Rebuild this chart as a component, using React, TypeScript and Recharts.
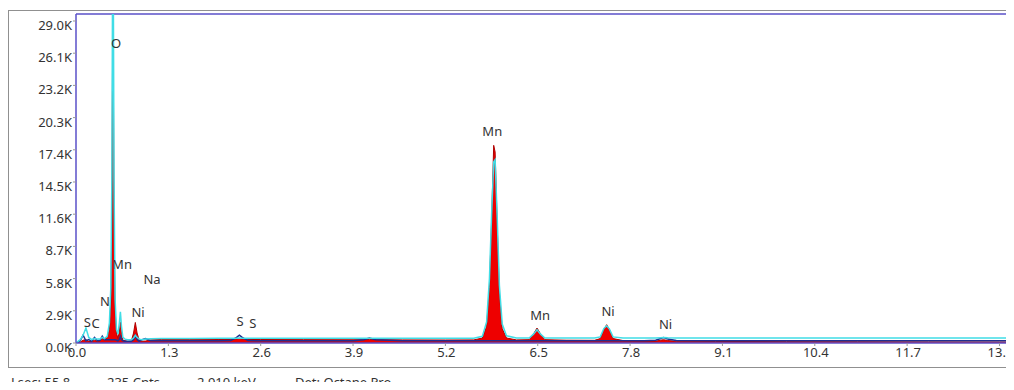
import { ComposedChart, Area, Line, XAxis, YAxis, ReferenceLine, ReferenceDot } from "recharts";

// energy (keV) sample points
const energy = [
  0.0, 0.06, 0.1, 0.14, 0.18, 0.22, 0.26, 0.3, 0.34, 0.37, 0.4, 0.44, 0.47, 0.49, 0.505, 0.52, 0.535, 0.55, 0.57, 0.59,
  0.61, 0.625, 0.64, 0.66, 0.69, 0.73, 0.78, 0.81, 0.835, 0.86, 0.89, 0.93, 0.98, 1.05, 1.2, 1.6, 2.0, 2.18, 2.26, 2.3,
  2.34, 2.42, 2.6, 3.2, 3.9, 4.05, 4.13, 4.22, 4.6, 5.2, 5.6, 5.72, 5.78, 5.82, 5.85, 5.88, 5.9, 5.93, 5.96, 6.0,
  6.06, 6.2, 6.38, 6.44, 6.49, 6.54, 6.6, 6.9, 7.3, 7.38, 7.43, 7.47, 7.51, 7.56, 7.7, 8.0, 8.16, 8.23, 8.27, 8.33,
  8.45, 9.0, 10.0, 11.0, 12.0, 13.0, 13.5,
];

// filled (red) spectrum counts
const spectrumCounts = [
  0, 80, 250, 300, 150, 120, 250, 150, 200, 500, 350, 500, 1200, 3500, 11000, 34000, 11000, 3000, 900, 400,
  1000, 1900, 900, 250, 200, 150, 200, 900, 1850, 900, 250, 150, 180, 280, 320, 330, 320, 320, 360, 420,
  360, 320, 310, 300, 290, 290, 310, 290, 280, 270, 280, 450, 1500, 5000, 11000, 17800, 17200, 10500, 4500, 1300,
  450, 280, 300, 800, 1350, 800, 300, 250, 240, 400, 1200, 1650, 1200, 400, 220, 180, 170, 250, 300, 220,
  160, 140, 120, 110, 100, 90, 90,
];

// overlay (cyan) spectrum counts
const overlayCounts = [
  0, 300, 700, 1350, 500, 300, 400, 350, 350, 500, 400, 600, 1800, 5000, 15000, 42000, 15000, 4000, 1200, 800,
  1800, 2800, 1500, 500, 350, 300, 300, 450, 700, 500, 350, 300, 350, 380, 400, 410, 420, 420, 430, 450,
  430, 420, 420, 420, 420, 420, 430, 420, 420, 420, 430, 600, 1900, 5800, 11500, 16300, 16500, 11200, 5200, 1700,
  650, 450, 450, 800, 1200, 800, 450, 450, 450, 550, 1300, 1550, 1250, 550, 450, 450, 450, 480, 500, 470,
  450, 450, 450, 450, 450, 450, 450,
];

// background (navy) trace counts
const backgroundCounts = [
  0, 200, 700, 200, 300, 150, 500, 200, 250, 600, 300, 300, 300, 300, 300, 300, 300, 300, 250, 200,
  300, 600, 300, 200, 150, 150, 150, 300, 700, 300, 150, 300, 400, 200, 200, 200, 200, 220, 500, 700,
  500, 220, 200, 200, 200, 300, 450, 300, 200, 200, 200, 200, 200, 200, 200, 200, 200, 200, 200, 200,
  200, 200, 200, 200, 200, 200, 200, 200, 200, 200, 200, 200, 200, 200, 200, 200, 250, 400, 500, 350,
  220, 200, 200, 200, 200, 200, 200,
];

const xTicks = [0, 1.3, 2.6, 3.9, 5.2, 6.5, 7.8, 9.1, 10.4, 11.7, 13.0];
const yTicks = [0, 2900, 5800, 8700, 11600, 14500, 17400, 20300, 23200, 26100, 29000];

// element labels: [text, keV, counts]
const peakLabels: [string, number, number][] = [
  ["O", 0.563, 27020],
  ["Mn", 5.86, 19100],
  ["Mn", 0.648, 7115],
  ["Na", 1.07, 5764],
  ["N", 0.408, 3783],
  ["Ni", 0.873, 2792],
  ["S", 0.16, 1891],
  ["C", 0.275, 1801],
  ["S", 2.31, 1981],
  ["S", 2.49, 1801],
  ["Mn", 6.535, 2522],
  ["Ni", 7.49, 2882],
  ["Ni", 8.3, 1711],
];

const statusItems: [string, number][] = [
  ["Lsec: 55.8", 3],
  ["235 Cnts", 99],
  ["2.910 keV", 189],
  ["Det: Octane Pro", 287],
];

const data = energy.map((e, i) => ({
  e,
  red: spectrumCounts[i],
  cyan: overlayCounts[i],
  navy: backgroundCounts[i],
}));

const FONT = "'Noto Sans', 'DejaVu Sans', sans-serif";
const BORDER = "#5a50c8";
const Y_MAX = 29630;

const YTick = (p: any) => (
  <text x={64} y={p.y + 4} textAnchor="end" dominantBaseline="central" fontSize={13} fill="#333" fontFamily={FONT}>
    {(p.payload.value / 1000).toFixed(1) + "K"}
  </text>
);

const XTick = (p: any) => (
  <text x={p.x + 1} y={344} textAnchor="middle" dominantBaseline="central" fontSize={13} fill="#333" fontFamily={FONT}>
    {p.payload.value.toFixed(1)}
  </text>
);

export default function App() {
  return (
    <div style={{ position: "relative", width: 1040, height: 382, marginBottom: -8, fontFamily: FONT }}>
      <style>{"html, body { overflow: hidden; }"}</style>
      <div
        style={{
          position: "absolute",
          left: 0,
          top: 2,
          width: 1100,
          height: 356,
          border: "1px solid #909090",
        }}
      />
      <div style={{ position: "absolute", left: 0, top: 0 }}>
        <ComposedChart width={1027} height={365} data={data} margin={{ top: 6, right: 0, left: 0, bottom: 0 }}>
          <XAxis
            dataKey="e"
            type="number"
            domain={[0, 13.5]}
            allowDataOverflow
            ticks={xTicks}
            interval={0}
            height={30}
            axisLine={{ stroke: BORDER, strokeWidth: 1.5 }}
            tickLine={{ stroke: "#999" }}
            tickSize={3}
            tick={XTick}
          />
          <YAxis
            type="number"
            domain={[0, Y_MAX]}
            allowDataOverflow
            ticks={yTicks}
            interval={0}
            width={68}
            axisLine={{ stroke: BORDER, strokeWidth: 1.5 }}
            tickLine={{ stroke: "#999" }}
            tickSize={3}
            tick={YTick}
          />
          <ReferenceLine y={Y_MAX} stroke={BORDER} strokeWidth={1.5} />
          <Area
            type="linear"
            dataKey="red"
            stroke="#b00000"
            strokeWidth={1}
            fill="#ee0000"
            fillOpacity={1}
            isAnimationActive={false}
            dot={false}
            activeDot={false}
          />
          <Line
            type="linear"
            dataKey="navy"
            stroke="#1f2f90"
            strokeWidth={1.5}
            dot={false}
            activeDot={false}
            isAnimationActive={false}
          />
          <Line
            type="linear"
            dataKey="cyan"
            stroke="#40dde6"
            strokeWidth={1.5}
            dot={false}
            activeDot={false}
            isAnimationActive={false}
          />
          {peakLabels.map(([t, x, y], i) => (
            <ReferenceDot
              key={i}
              x={x}
              y={y}
              r={0}
              fill="none"
              stroke="none"
              label={{ value: t, position: "center", fontSize: 13, fill: "#333", fontFamily: FONT }}
            />
          ))}
        </ComposedChart>
      </div>
      {statusItems.map(([t, x]) => (
        <div
          key={t}
          style={{ position: "absolute", left: x, top: 366, fontSize: 13, lineHeight: "16px", color: "#333", whiteSpace: "nowrap" }}
        >
          {t}
        </div>
      ))}
    </div>
  );
}
